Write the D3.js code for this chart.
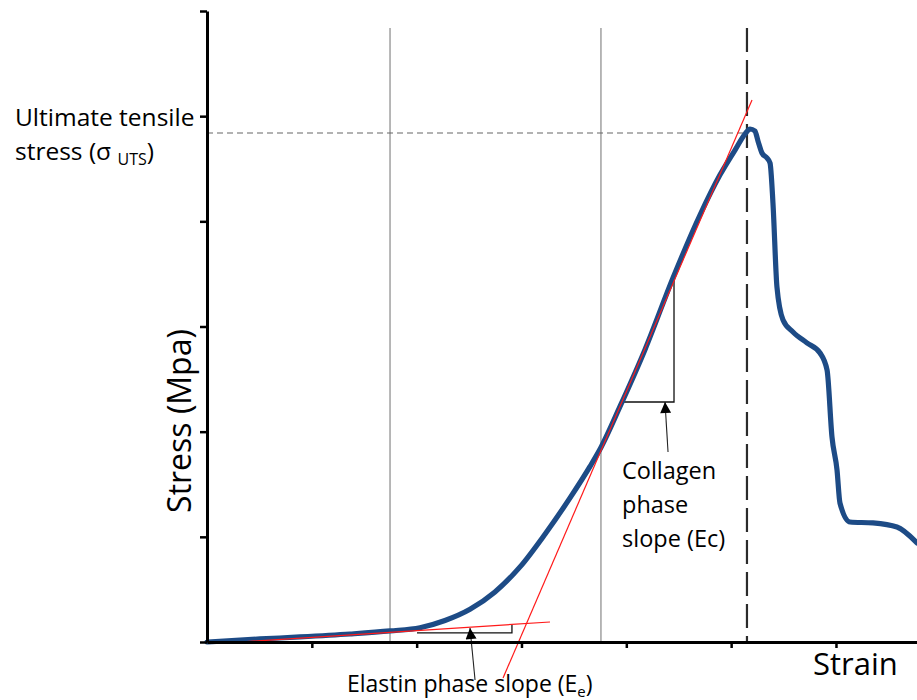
<!DOCTYPE html>
<html><head><meta charset="utf-8">
<script src="https://cdn.jsdelivr.net/npm/d3@7"></script>
<style>body{margin:0;background:#fff}svg{display:block}</style>
</head><body>
<svg id="chart" width="917" height="700"></svg>
<script>
// ---- data (strain / stress in axis units) ----
const strain = [0, 0.506, 0.887, 1.364, 1.746, 2.032, 2.270, 2.509, 2.747, 2.986, 3.224, 3.463, 3.654, 3.758, 3.940, 4.178, 4.445, 4.703, 4.894, 5.037, 5.132, 5.180, 5.227, 5.256, 5.294, 5.342, 5.371, 5.399, 5.437, 5.495, 5.590, 5.724, 5.848, 5.915, 5.962, 6.010, 6.038, 6.134, 6.353, 6.582, 6.773];
const stress = [0, 0.029, 0.048, 0.076, 0.105, 0.136, 0.205, 0.312, 0.476, 0.714, 1.025, 1.370, 1.670, 1.850, 2.240, 2.780, 3.461, 4.060, 4.442, 4.678, 4.830, 4.878, 4.859, 4.764, 4.650, 4.602, 4.555, 4.174, 3.376, 3.062, 2.948, 2.843, 2.748, 2.586, 1.949, 1.635, 1.322, 1.141, 1.132, 1.093, 0.941];
const xTickValues = [1, 2, 3, 4, 5, 6];
const yTickValues = [0, 1, 2, 3, 4, 5, 6];
const xMax = 6.773;
const yMax = 6;
const phaseBoundaries = [1.746, 3.758];
const utsStrain = 5.151;
const utsStress = 4.840;
const guideTop = 5.838;
const elastinTangentX = [0.315, 3.272];
const elastinTangentY = [0.0, 0.190];
const collagenTangentX = [2.824, 5.199];
const collagenTangentY = [-0.342, 5.154];
const elastinTriX = [2.003, 2.909, 2.909];
const elastinTriY = [0.086, 0.086, 0.162];
const collagenTriX = [3.959, 4.455, 4.455];
const collagenTriY = [2.282, 2.282, 3.461];
const elastinArrowX = [2.557, 2.509];
const elastinArrowY = [-0.361, 0.133];
const collagenArrowX = [4.398, 4.369];
const collagenArrowY = [1.807, 2.282];
const xTitle = "Strain";
const yTitle = "Stress (Mpa)";

// ---- drawing ----
const svg = d3.select("#chart");
const x = d3.scaleLinear().domain([0, xMax]).range([207, 917]);
const y = d3.scaleLinear().domain([0, yMax]).range([642, 11]);
const FONT = "'Open Sans', 'Segoe UI', sans-serif";

const defs = svg.append("defs");
defs.append("marker").attr("id", "ah").attr("viewBox", "0 0 10 10")
  .attr("refX", 10).attr("refY", 5).attr("markerWidth", 12).attr("markerHeight", 11)
  .attr("markerUnits", "userSpaceOnUse").attr("orient", "auto")
  .append("path").attr("d", "M0,0L10,5L0,10Z").attr("fill", "#000");

// phase boundary lines
svg.selectAll(".phase").data(phaseBoundaries).join("line")
  .attr("x1", d => x(d)).attr("x2", d => x(d))
  .attr("y1", y(guideTop)).attr("y2", y(0))
  .attr("stroke", "#a6a6a6").attr("stroke-width", 1.6);

// UTS vertical dashed line
svg.append("line").attr("x1", x(utsStrain)).attr("x2", x(utsStrain))
  .attr("y1", y(guideTop)).attr("y2", y(0))
  .attr("stroke", "#2b2b2b").attr("stroke-width", 2.2).attr("stroke-dasharray", "24,8");

// UTS horizontal dashed line
svg.append("line").attr("x1", x(0)).attr("x2", x(utsStrain))
  .attr("y1", y(utsStress)).attr("y2", y(utsStress))
  .attr("stroke", "#666").attr("stroke-width", 1.1).attr("stroke-dasharray", "6,4");

// slope triangles
const tri = (xs, ys) => d3.line()(xs.map((v, i) => [x(v), y(ys[i])]));
svg.append("path").attr("d", tri(elastinTriX, elastinTriY)).attr("fill", "none")
  .attr("stroke", "#111").attr("stroke-width", 1.3);
svg.append("path").attr("d", tri(collagenTriX, collagenTriY)).attr("fill", "none")
  .attr("stroke", "#111").attr("stroke-width", 1.3);

// curve
const line = d3.line().x((d, i) => x(strain[i])).y((d, i) => y(stress[i])).curve(d3.curveMonotoneX);
svg.append("path").datum(stress).attr("d", line).attr("fill", "none")
  .attr("stroke", "#1d4b86").attr("stroke-width", 5.2).attr("stroke-linejoin", "round").attr("stroke-linecap", "round");

// tangent lines
svg.append("path").attr("d", tri(elastinTangentX, elastinTangentY)).attr("fill", "none")
  .attr("stroke", "#ff1a1a").attr("stroke-width", 1.2);
svg.append("path").attr("d", tri(collagenTangentX, collagenTangentY)).attr("fill", "none")
  .attr("stroke", "#ff1a1a").attr("stroke-width", 1.2);

// arrows
svg.append("path").attr("d", tri(elastinArrowX, elastinArrowY)).attr("fill", "none")
  .attr("stroke", "#222").attr("stroke-width", 1.1).attr("marker-end", "url(#ah)");
svg.append("path").attr("d", tri(collagenArrowX, collagenArrowY)).attr("fill", "none")
  .attr("stroke", "#222").attr("stroke-width", 1.1).attr("marker-end", "url(#ah)");

// axes
const gx = svg.append("g").attr("transform", `translate(0,${y(0)})`)
  .call(d3.axisBottom(x).tickValues(xTickValues).tickSizeInner(6).tickSizeOuter(0).tickFormat(""));
gx.select(".domain").attr("stroke", "#000").attr("stroke-width", 3);
gx.selectAll(".tick line").attr("stroke", "#000").attr("stroke-width", 2.5);
const gy = svg.append("g").attr("transform", `translate(${x(0)},0)`)
  .call(d3.axisLeft(y).tickValues(yTickValues).tickSizeInner(7).tickSizeOuter(0).tickFormat(""));
gy.select(".domain").attr("stroke", "#000").attr("stroke-width", 3);
gy.selectAll(".tick line").attr("stroke", "#000").attr("stroke-width", 2.5);

// titles
svg.append("text").attr("x", 813).attr("y", 675).attr("font-family", FONT)
  .attr("font-size", 31).attr("fill", "#000").text(xTitle);
svg.append("text").attr("transform", "translate(191,421) rotate(-90)").attr("text-anchor", "middle")
  .attr("font-family", FONT).attr("font-size", 32).attr("fill", "#000").text(yTitle);

// annotations
const utsT = svg.append("text").attr("font-family", FONT).attr("font-size", 24.5).attr("fill", "#000");
utsT.append("tspan").attr("x", 15).attr("y", 126).text("Ultimate tensile");
utsT.append("tspan").attr("x", 15).attr("y", 160).text("stress (σ ");
utsT.append("tspan").attr("font-size", 16).attr("dy", 5).text("UTS");
utsT.append("tspan").attr("dy", -5).text(")");

const colT = svg.append("text").attr("font-family", FONT).attr("font-size", 23.5).attr("fill", "#000");
colT.append("tspan").attr("x", 622).attr("y", 479).text("Collagen");
colT.append("tspan").attr("x", 622).attr("y", 513).text("phase");
colT.append("tspan").attr("x", 622).attr("y", 547).text("slope (Ec)");

const elT = svg.append("text").attr("font-family", FONT).attr("font-size", 23).attr("fill", "#000")
  .attr("x", 347).attr("y", 692);
elT.append("tspan").text("Elastin phase slope (E");
elT.append("tspan").attr("font-size", 15).attr("dy", 5).text("e");
elT.append("tspan").attr("dy", -5).text(")");
</script>
</body></html>
